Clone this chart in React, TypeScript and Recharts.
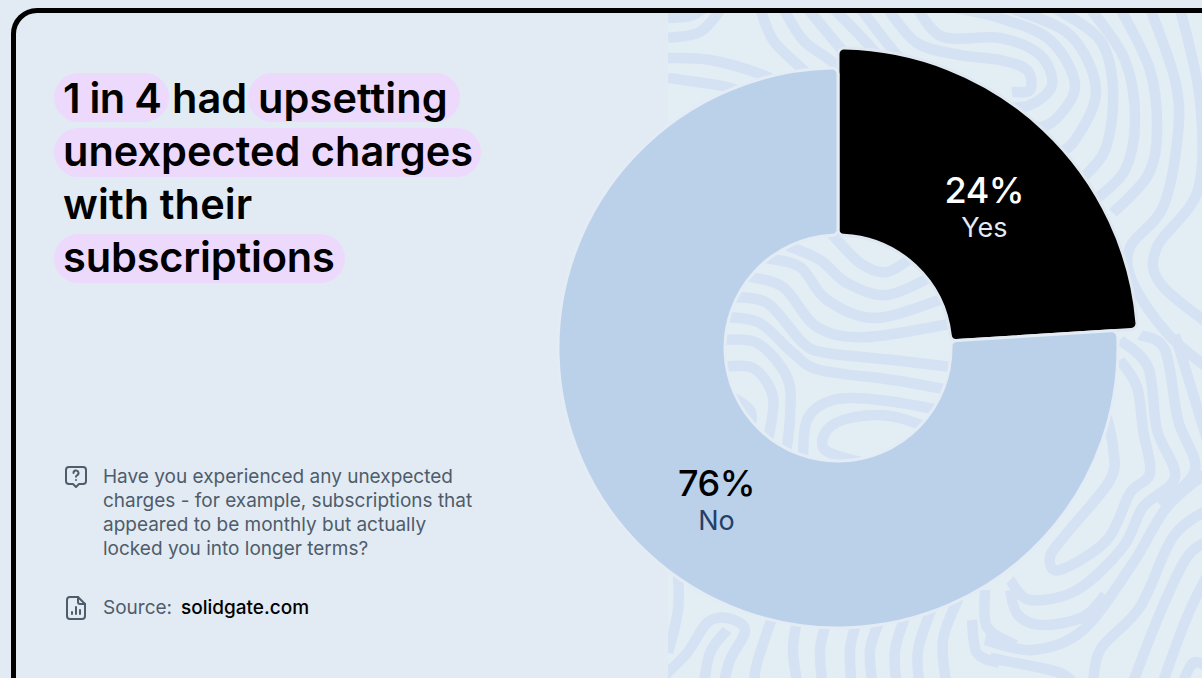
import { Pie, PieChart, Sector } from "recharts";

const categories = ["Yes", "No"];
const shares = [24, 76];

const sliceFill = ["#000000", "#bbd1ea"];
const sliceStroke = ["#dfe8f1", "#e3ecf4"];
const sliceOuter = [300, 280];
const valueColor = ["#ffffff", "#000000"];
const nameColor = ["#e2ebf4", "#254066"];
const labelNudge = [
  [5, 10.5],
  [13, 10],
];

const chartData = categories.map((name, i) => ({ name, value: shares[i] }));

const FONT = "Inter, 'Noto Sans', sans-serif";
const CX = 338;
const CY = 348;
const INNER = 113;

// background fingerprint swirl, traced as smooth strokes
const swirl: number[][][] = [
  [[668, 18], [690, 16], [705, 8]],
  [[668, 38], [700, 32], [722, 8]],
  [[668, 58], [710, 60], [763, 75], [790, 90]],
  [[668, 78], [727, 87], [760, 100]],
  [[760, 8], [773, 40], [800, 67], [815, 80]],
  [[783, 8], [803, 40], [830, 60], [845, 75]],
  [[807, 8], [842, 50], [860, 70]],
  [[833, 8], [867, 43], [890, 70]],
  [[860, 8], [887, 43], [910, 70]],
  [[887, 8], [917, 43], [960, 55], [1000, 60], [1027, 70], [1030, 90], [1012, 92]],
  [[917, 8], [943, 37], [1000, 38], [1040, 55], [1052, 85], [1030, 105], [1000, 108]],
  [[955, 8], [1000, 18], [1050, 40], [1075, 85], [1055, 120], [1030, 130]],
  [[1010, 8], [1070, 35], [1096, 90], [1075, 140], [1050, 160]],
  [[1055, 8], [1100, 40], [1113, 90], [1105, 150], [1075, 185]],
  [[1090, 8], [1125, 60], [1135, 120], [1125, 170], [1095, 200]],
  [[1120, 8], [1150, 70], [1157, 130], [1148, 175], [1113, 213]],
  [[1150, 8], [1175, 80], [1178, 133], [1163, 207], [1130, 247], [1133, 283], [1167, 333], [1210, 370]],
  [[1180, 8], [1200, 100], [1198, 190], [1157, 247], [1160, 283], [1210, 325]],
  [[1120, 340], [1148, 367], [1157, 430], [1175, 477], [1143, 507], [1123, 547], [1077, 590], [1030, 600], [1010, 580]],
  [[1120, 360], [1137, 387], [1143, 430], [1150, 473], [1130, 493], [1107, 540], [1060, 570], [1050, 557], [1067, 533], [1110, 480], [1113, 447], [1105, 410]],
  [[1140, 335], [1165, 350], [1178, 420], [1195, 470], [1160, 505]],
  [[1175, 335], [1195, 400], [1210, 450]],
  [[985, 640], [1033, 650], [1083, 630], [1133, 563], [1167, 507], [1210, 470]],
  [[1093, 690], [1100, 650], [1140, 607], [1173, 537], [1210, 508]],
  [[1130, 690], [1160, 613], [1187, 557], [1210, 540]],
  [[1160, 690], [1187, 617], [1210, 570]],
  [[1180, 690], [1193, 663], [1210, 668]],
  [[990, 658], [1060, 673], [1075, 690]],
  [[1010, 590], [1018, 615], [1043, 625], [1083, 617], [1105, 595]],
  [[678, 570], [678, 610], [668, 653]],
  [[660, 680], [687, 653], [707, 623], [727, 618], [745, 630], [730, 660], [722, 690]],
  [[703, 690], [710, 653], [727, 630]],
  [[773, 615], [757, 663], [753, 690]],
  [[797, 620], [793, 650], [798, 690]],
  [[827, 620], [820, 650], [823, 690]],
  [[857, 620], [850, 650], [852, 690]],
  [[880, 620], [870, 650], [873, 690]],
  [[907, 612], [895, 650], [897, 690]],
  [[933, 605], [918, 650], [920, 690]],
  [[960, 595], [943, 640], [947, 690]],
  [[972, 620], [977, 653], [1000, 663]],
  [[985, 590], [987, 627], [1015, 645]],
  [[727, 317], [760, 323], [793, 353], [820, 370], [893, 380], [960, 392]],
  [[727, 297], [767, 303], [803, 343], [827, 353], [893, 360], [960, 368]],
  [[745, 276], [783, 287], [817, 327], [867, 337], [960, 322]],
  [[765, 258], [800, 267], [827, 300], [877, 318], [950, 296]],
  [[788, 246], [820, 260], [847, 283], [887, 295], [935, 275]],
  [[830, 232], [860, 263], [887, 272], [915, 255]],
  [[720, 340], [757, 343], [787, 377], [790, 417], [785, 460]],
  [[720, 367], [753, 368], [773, 397], [768, 440]],
  [[725, 393], [750, 410], [750, 430]],
  [[803, 465], [807, 420], [833, 400], [880, 400], [940, 410]],
  [[860, 462], [825, 450], [827, 430], [850, 418], [890, 416], [930, 428]],
];

function smoothPath(pts: number[][]) {
  let d = `M ${pts[0][0]} ${pts[0][1]}`;
  for (let i = 0; i < pts.length - 1; i++) {
    const p0 = pts[Math.max(i - 1, 0)];
    const p1 = pts[i];
    const p2 = pts[i + 1];
    const p3 = pts[Math.min(i + 2, pts.length - 1)];
    const c1x = p1[0] + (p2[0] - p0[0]) / 6;
    const c1y = p1[1] + (p2[1] - p0[1]) / 6;
    const c2x = p2[0] - (p3[0] - p1[0]) / 6;
    const c2y = p2[1] - (p3[1] - p1[1]) / 6;
    d += ` C ${c1x} ${c1y}, ${c2x} ${c2y}, ${p2[0]} ${p2[1]}`;
  }
  return d;
}

function renderSlice(props: any) {
  const i = props.index;
  return (
    <Sector
      cx={props.cx}
      cy={props.cy}
      startAngle={props.startAngle}
      endAngle={props.endAngle}
      innerRadius={INNER}
      outerRadius={sliceOuter[i]}
      cornerRadius={6}
      fill={sliceFill[i]}
      stroke={sliceStroke[i]}
      strokeWidth={3}
    />
  );
}

function renderLabel(props: any) {
  const i = props.index;
  const r = (INNER + sliceOuter[i]) / 2;
  const a = (props.midAngle * Math.PI) / 180;
  const x = props.cx + r * Math.cos(a) + labelNudge[i][0];
  const y = props.cy - r * Math.sin(a) + labelNudge[i][1];
  return (
    <g fontFamily={FONT} textAnchor="middle">
      <text x={x} y={y - 5} fontSize={36} fontWeight={500} letterSpacing={-0.5} fill={valueColor[i]}>
        {props.value}%
      </text>
      <text x={x} y={y + 29} fontSize={27} fill={nameColor[i]}>
        {props.name}
      </text>
    </g>
  );
}

const pills = [
  { left: 54, top: 73, width: 115 },
  { left: 248, top: 73, width: 212 },
  { left: 54, top: 128, width: 427 },
  { left: 54, top: 234, width: 291 },
];

const titleParts = [
  { text: "1 in 4", left: 63, top: 74, spacing: -0.7 },
  { text: "had", left: 172, top: 74, spacing: 0 },
  { text: "upsetting", left: 258, top: 74, spacing: 0.1 },
  { text: "unexpected charges", left: 63, top: 127, spacing: 0 },
  { text: "with their", left: 63, top: 180, spacing: 0.1 },
  { text: "subscriptions", left: 63, top: 233, spacing: -0.15 },
];

const questionLines = [
  "Have you experienced any unexpected",
  "charges - for example, subscriptions that",
  "appeared to be monthly but actually",
  "locked you into longer terms?",
];

export default function App() {
  return (
    <div
      style={{
        position: "absolute",
        left: 0,
        top: 0,
        width: 1202,
        height: 678,
        overflow: "hidden",
        background: "#e2ebf3",
        fontFamily: FONT,
      }}
    >
      <svg width={1202} height={678} style={{ position: "absolute", left: 0, top: 0 }}>
        <defs>
          <clipPath id="swirlClip">
            <rect x={668} y={13} width={534} height={665} />
          </clipPath>
        </defs>
        <rect x={668} y={13} width={534} height={665} fill="#e3edf4" />
        <g clipPath="url(#swirlClip)" fill="none" stroke="#d5e2f3" strokeWidth={10.5}>
          {swirl.map((pts, i) => (
            <path key={i} d={smoothPath(pts)} />
          ))}
        </g>
      </svg>

      <div
        style={{
          position: "absolute",
          left: 11,
          top: 8,
          width: 1220,
          height: 720,
          boxSizing: "border-box",
          border: "5px solid #000",
          borderRadius: 26,
        }}
      />

      {pills.map((p, i) => (
        <div
          key={i}
          style={{
            position: "absolute",
            left: p.left,
            top: p.top,
            width: p.width,
            height: 49,
            borderRadius: 25,
            background: "#edd9fc",
          }}
        />
      ))}
      {titleParts.map((t) => (
        <div
          key={t.text}
          style={{
            position: "absolute",
            left: t.left,
            top: t.top,
            fontSize: 41.5,
            lineHeight: "49px",
            letterSpacing: t.spacing,
            fontWeight: 600,
            color: "#000",
            whiteSpace: "nowrap",
          }}
        >
          {t.text}
        </div>
      ))}

      <svg
        width={24}
        height={24}
        viewBox="0 0 24 24"
        style={{ position: "absolute", left: 64, top: 465 }}
        fill="none"
        stroke="#4f5c6b"
        strokeWidth={2}
        strokeLinejoin="round"
        strokeLinecap="round"
      >
        <path d="M5 2h14a3 3 0 0 1 3 3v11a3 3 0 0 1-3 3h-4l-3 3-3-3H5a3 3 0 0 1-3-3V5a3 3 0 0 1 3-3z" />
        <path d="M9.5 8a2.5 2.5 0 1 1 3.5 2.3c-.7.3-1 .7-1 1.5" />
        <path d="M12 15v.1" />
      </svg>
      {questionLines.map((line, i) => (
        <div
          key={line}
          style={{
            position: "absolute",
            left: 103,
            top: 465 + i * 24,
            fontSize: 19,
            lineHeight: "24px",
            color: "#4f5c6b",
            whiteSpace: "nowrap",
          }}
        >
          {line}
        </div>
      ))}

      <svg
        width={24}
        height={24}
        viewBox="0 0 24 24"
        style={{ position: "absolute", left: 64, top: 596 }}
        fill="none"
        stroke="#4f5c6b"
        strokeWidth={2}
        strokeLinejoin="round"
        strokeLinecap="round"
      >
        <path d="M6 1h8l7 7v12a3 3 0 0 1-3 3H6a3 3 0 0 1-3-3V4a3 3 0 0 1 3-3z" />
        <path d="M14 1v5a2 2 0 0 0 2 2h5" />
        <path d="M8 18v-2M12 18v-7M16 18v-4" />
      </svg>
      <div
        style={{
          position: "absolute",
          left: 103,
          top: 596,
          fontSize: 19,
          lineHeight: "24px",
          color: "#4f5c6b",
          whiteSpace: "nowrap",
        }}
      >
        Source:
      </div>
      <div
        style={{
          position: "absolute",
          left: 181,
          top: 596,
          fontSize: 19,
          lineHeight: "24px",
          fontWeight: 500,
          color: "#000",
          whiteSpace: "nowrap",
        }}
      >
        solidgate.com
      </div>

      <div style={{ position: "absolute", left: 500, top: 0 }}>
        <PieChart width={702} height={678} margin={{ top: 0, right: 0, bottom: 0, left: 0 }}>
          <Pie
            data={chartData}
            dataKey="value"
            nameKey="name"
            cx={CX}
            cy={CY}
            startAngle={90}
            endAngle={-270}
            innerRadius={INNER}
            outerRadius={280}
            shape={renderSlice}
            label={renderLabel}
            labelLine={false}
            isAnimationActive={false}
          />
        </PieChart>
      </div>
    </div>
  );
}
